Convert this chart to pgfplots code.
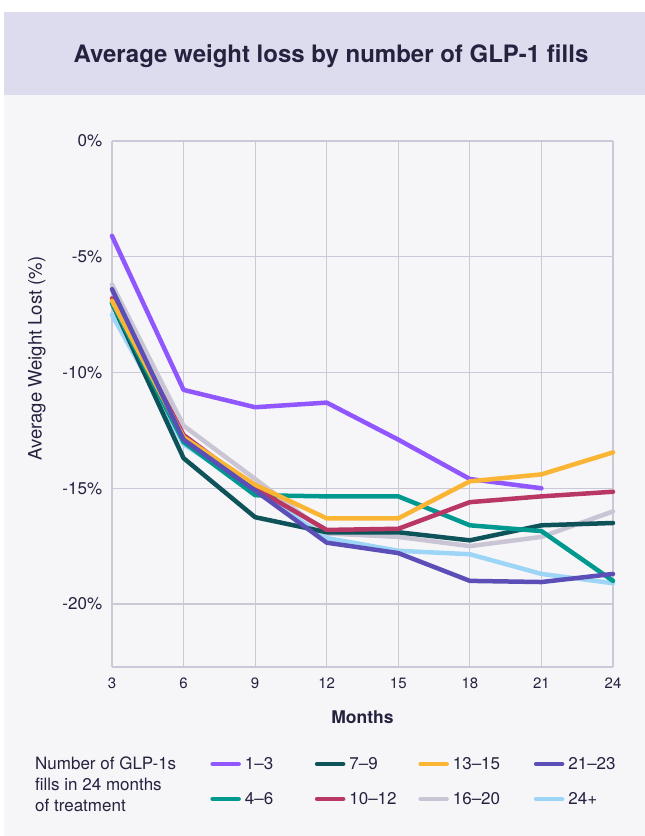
\documentclass[border=0pt]{standalone}
\usepackage{fontspec}
\setmainfont{TeX Gyre Heros}
\usepackage{pgfplots}
\pgfplotsset{compat=1.18}

\definecolor{ink}{HTML}{25223F}
\definecolor{gridc}{HTML}{CBC8D8}
\definecolor{band}{HTML}{DDDCEE}
\definecolor{panel}{HTML}{F6F6F9}
\definecolor{cOne}{HTML}{9157FF}
\definecolor{cFour}{HTML}{00998F}
\definecolor{cSeven}{HTML}{0E535A}
\definecolor{cTen}{HTML}{B83765}
\definecolor{cThirteen}{HTML}{FBB535}
\definecolor{cSixteen}{HTML}{C9C5D4}
\definecolor{cTwentyOne}{HTML}{5B4FB7}
\definecolor{cTwentyFour}{HTML}{9DD5F6}

\tikzset{
  ser/.style={line width=4.5pt, line join=round, line cap=round},
  sA/.style={ser, cOne},
  sB/.style={ser, cFour},
  sC/.style={ser, cSeven},
  sD/.style={ser, cTen},
  sE/.style={ser, cThirteen},
  sF/.style={ser, cSixteen},
  sG/.style={ser, cTwentyOne},
  sH/.style={ser, cTwentyFour},
}

\begin{document}
\begin{tikzpicture}[x=1pt,y=1pt]
% page, header band and panel
\fill[white] (0,0) rectangle (645,836);
\fill[panel] (4,0) rectangle (645,741);
\fill[band] (4,741) rectangle (645,824);
\node[anchor=base, inner sep=0pt, font=\fontsize{24}{27}\selectfont\bfseries, text=ink]
  at (331,773.7) {Average weight loss by number of GLP-1 fills};

\begin{axis}[
  at={(112pt,169pt)}, anchor=south west,
  scale only axis, width=501pt, height=526pt,
  xmin=3, xmax=24, ymin=-22.72, ymax=0,
  xtick={3,6,9,12,15,18,21,24},
  xticklabels={3,6,9,12,15,18,21,24},
  ytick={-20,-15,-10,-5,0},
  yticklabels={-20\%,-15\%,-10\%,-5\%,0\%},
  axis x line*=bottom, axis y line*=left,
  axis line style={gridc, line width=2.2pt, -},
  grid=major, major grid style={gridc, line width=1.2pt},
  tick style={draw=none},
  clip=false,
  xticklabel style={font=\fontsize{15}{15}\selectfont, text=ink},
  yticklabel style={font=\fontsize{17}{17}\selectfont, text=ink},
  xticklabel shift=7pt,
  yticklabel shift=6.3pt,
  xlabel={Months},
  xlabel style={font=\fontsize{17.5}{17.5}\selectfont\bfseries, text=ink,
    at={(axis description cs:0.5,-0.107)}, anchor=base, inner sep=0pt},
  ylabel={Average Weight Lost (\%)},
  ylabel style={font=\fontsize{18.5}{18.5}\selectfont, text=ink,
    at={(axis description cs:-0.1497,0.5865)}, anchor=center},
  legend columns=2, transpose legend,
  legend style={draw=none, fill=none, text=ink,
    font=\fontsize{17}{17}\selectfont,
    at={(axis description cs:0.19,-0.1635)}, anchor=north west,
    cells={anchor=west}, row sep=17.5pt,
    /tikz/every odd column/.append style={column sep=2pt},
    /tikz/every even column/.append style={column sep=0pt}},
  legend image code/.code={\draw[#1, line width=4.5pt, line cap=round]
    (0pt,0pt) -- (26pt,0pt);},
]
% data lines, drawn back to front
\addplot[sF, forget plot] coordinates {(3,-6.2)(6,-12.3)(9,-14.6)(12,-16.95)(15,-17.1)(18,-17.5)(21,-17.1)(24,-16.0)};
\addplot[sH, forget plot] coordinates {(3,-7.5)(6,-13.1)(9,-15.1)(12,-17.15)(15,-17.7)(18,-17.85)(21,-18.7)(24,-19.1)};
\addplot[sA, forget plot] coordinates {(3,-4.1)(6,-10.75)(9,-11.5)(12,-11.3)(15,-12.9)(18,-14.6)(21,-15.0)};
\addplot[sC, forget plot] coordinates {(3,-7.0)(6,-13.7)(9,-16.25)(12,-16.9)(15,-16.9)(18,-17.25)(21,-16.6)(24,-16.5)};
\addplot[sB, forget plot] coordinates {(3,-7.0)(6,-13.0)(9,-15.3)(12,-15.35)(15,-15.35)(18,-16.6)(21,-16.85)(24,-19.0)};
\addplot[sD, forget plot] coordinates {(3,-6.8)(6,-12.7)(9,-15.0)(12,-16.8)(15,-16.75)(18,-15.6)(21,-15.35)(24,-15.15)};
\addplot[sE, forget plot] coordinates {(3,-6.9)(6,-12.8)(9,-14.85)(12,-16.3)(15,-16.3)(18,-14.7)(21,-14.4)(24,-13.45)};
\addplot[sG, forget plot] coordinates {(3,-6.4)(6,-12.9)(9,-15.1)(12,-17.35)(15,-17.8)(18,-19.0)(21,-19.05)(24,-18.7)};
% legend entries, fixed-width text cells keep the columns evenly spaced
\addlegendimage{sA}\addlegendentry{\makebox[68pt][l]{1–3}}
\addlegendimage{sB}\addlegendentry{\makebox[68pt][l]{4–6}}
\addlegendimage{sC}\addlegendentry{\makebox[67pt][l]{7–9}}
\addlegendimage{sD}\addlegendentry{\makebox[67pt][l]{10–12}}
\addlegendimage{sE}\addlegendentry{\makebox[79pt][l]{13–15}}
\addlegendimage{sF}\addlegendentry{\makebox[79pt][l]{16–20}}
\addlegendimage{sG}\addlegendentry{21–23}
\addlegendimage{sH}\addlegendentry{24+}
\end{axis}

\node[anchor=north west, align=left, text=ink, inner sep=0pt,
  font=\fontsize{17}{21}\selectfont] at (35,836-756.7)
  {Number of GLP-1s\\fills in 24 months\\of treatment};
\end{tikzpicture}
\end{document}
